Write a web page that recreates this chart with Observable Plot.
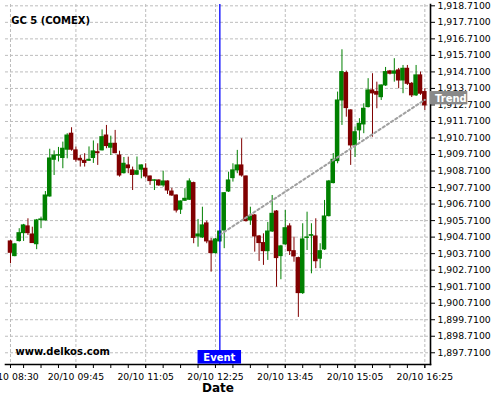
<!DOCTYPE html>
<html><head><meta charset="utf-8">
<script src="https://cdn.jsdelivr.net/npm/d3@7"></script>
<script src="https://cdn.jsdelivr.net/npm/@observablehq/plot@0.6"></script>
<style>html,body{margin:0;padding:0;background:#fff;}</style>
</head><body><div id="chart"></div>
<script>
const chartTitle = "GC 5 (COMEX)";
const watermark = "www.delkos.com";
const axisTitle = "Date";

const times = ["08:30","08:35","08:40","08:45","08:50","08:55",
"09:00","09:05","09:10","09:15","09:20","09:25","09:30","09:35","09:40","09:45","09:50","09:55",
"10:00","10:05","10:10","10:15","10:20","10:25","10:30","10:35","10:40","10:45","10:50","10:55",
"11:00","11:05","11:10","11:15","11:20","11:25","11:30","11:35","11:40","11:45","11:50","11:55",
"12:00","12:05","12:10","12:15","12:20","12:25","12:30","12:35","12:40","12:45","12:50","12:55",
"13:00","13:05","13:10","13:15","13:20","13:25","13:30","13:35","13:40","13:45","13:50","13:55",
"14:00","14:05","14:10","14:15","14:20","14:25","14:30","14:35","14:40","14:45","14:50","14:55",
"15:00","15:05","15:10","15:15","15:20","15:25","15:30","15:35","15:40","15:45","15:50","15:55",
"16:00","16:05","16:10","16:15","16:20","16:25"];

const open = [
1904.45,1903.56,1904.47,1904.95,1905.36,1904.87,1904.28,1905.74,1905.72,1907.17,
1909.39,1909.64,1909.50,1910.00,1910.97,1909.96,1909.45,1909.33,1909.33,1909.50,
1909.85,1909.96,1910.86,1910.12,1910.36,1909.65,1908.58,1909.05,1908.75,1908.49,
1908.79,1908.85,1908.38,1908.12,1908.14,1907.84,1908.08,1907.47,1907.23,1906.37,
1906.91,1906.97,1907.98,1904.75,1904.69,1905.54,1904.45,1903.74,1904.45,1905.11,
1907.47,1908.28,1908.75,1909.05,1908.38,1905.72,1906.02,1904.75,1904.35,1903.86,
1905.05,1906.26,1903.56,1904.27,1905.36,1903.86,1903.44,1901.32,1904.66,1904.79,
1904.75,1903.40,1903.96,1905.98,1907.98,1909.31,1912.98,1914.64,1912.38,1910.26,
1911.17,1911.53,1912.58,1913.59,1913.49,1913.18,1913.89,1914.74,1914.60,1914.80,
1914.19,1914.90,1913.99,1913.29,1914.50,1913.49];

const high = [
1904.51,1904.33,1905.22,1905.48,1905.82,1905.31,1905.78,1905.92,1907.47,1910.03,
1909.93,1910.14,1910.46,1910.97,1911.33,1910.16,1909.65,1909.76,1910.17,1910.53,
1910.36,1911.20,1911.47,1910.82,1911.17,1909.91,1909.53,1909.55,1908.95,1909.56,
1909.08,1909.15,1908.41,1908.17,1908.17,1908.70,1908.11,1907.66,1907.26,1906.90,
1907.64,1908.24,1908.04,1905.78,1906.52,1905.68,1904.63,1904.63,1905.11,1907.41,
1908.64,1909.15,1909.96,1910.66,1908.41,1906.52,1906.08,1904.81,1904.91,1905.60,
1907.23,1906.32,1904.21,1906.32,1905.52,1904.71,1903.50,1905.52,1906.22,1905.52,
1905.82,1904.31,1906.93,1908.14,1909.77,1913.49,1916.05,1914.76,1912.41,1911.37,
1911.88,1912.78,1914.30,1914.60,1914.09,1913.92,1914.98,1914.80,1915.51,1914.92,
1915.10,1915.10,1914.07,1915.10,1914.70,1913.69];

const low = [
1903.10,1903.52,1904.41,1904.45,1904.81,1904.33,1903.95,1905.22,1905.69,1907.13,
1908.44,1909.26,1908.85,1909.45,1909.91,1909.25,1908.95,1908.95,1909.29,1909.17,
1909.05,1909.93,1910.06,1909.65,1909.76,1908.34,1908.53,1908.55,1907.53,1908.44,
1908.24,1908.24,1907.84,1907.53,1907.78,1907.73,1907.29,1907.17,1906.17,1906.08,
1906.87,1906.93,1904.31,1904.10,1904.63,1904.31,1902.59,1903.69,1904.39,1904.01,
1907.41,1908.04,1908.55,1908.34,1905.62,1905.42,1903.80,1903.24,1903.00,1903.30,
1904.99,1901.68,1902.13,1904.21,1903.60,1903.19,1899.85,1901.24,1903.90,1902.49,
1902.80,1902.80,1903.90,1905.93,1907.93,1909.15,1911.47,1911.97,1909.05,1909.53,
1910.56,1910.97,1912.53,1910.76,1912.48,1912.98,1913.83,1914.53,1914.09,1913.69,
1913.39,1913.89,1913.16,1913.22,1913.29,1912.38];

const close = [
1903.76,1904.27,1904.95,1905.42,1904.95,1904.35,1905.72,1905.78,1907.23,1909.47,
1909.65,1909.67,1910.06,1910.86,1910.00,1909.39,1909.35,1909.20,1909.39,1909.90,
1909.79,1910.76,1910.22,1910.36,1909.79,1908.44,1909.15,1908.88,1908.47,1908.70,
1909.05,1908.38,1908.10,1908.15,1907.84,1908.08,1907.53,1907.23,1906.32,1906.87,
1907.03,1908.08,1904.66,1904.87,1905.42,1904.45,1903.74,1904.57,1905.05,1907.37,
1908.14,1908.75,1909.05,1908.44,1905.68,1905.96,1904.75,1904.35,1903.86,1905.05,
1906.12,1903.44,1904.15,1905.25,1903.86,1903.54,1901.32,1904.57,1904.69,1904.83,
1903.25,1903.86,1905.96,1908.08,1909.39,1912.98,1914.70,1912.52,1910.26,1911.06,
1911.57,1912.48,1913.59,1913.41,1913.33,1913.89,1914.70,1914.60,1914.74,1914.19,
1914.90,1913.99,1913.29,1914.50,1913.39,1912.68];

const yTicks = [1897.71,1898.71,1899.71,1900.71,1901.71,1902.71,1903.71,1904.71,1905.71,1906.71,1907.71,
1908.71,1909.71,1910.71,1911.71,1912.71,1913.71,1914.71,1915.71,1916.71,1917.71,1918.71];
const xTickTimes = ["08:30","09:45","11:05","12:25","13:45","15:05","16:25"];
const xTickLabels = ["20/10 08:30","20/10 09:45","20/10 11:05","20/10 12:25","20/10 13:45","20/10 15:05","20/10 16:25"];

const eventTime = "12:30";
const eventText = "Event";
const trendTimes = ["12:30","16:25"];
const trendValues = [1904.85, 1913.02];
const trendText = "Trend";

const UP = "#008000", DOWN = "#800000";
const toMin = s => { const [h, m] = s.split(":").map(Number); return h * 60 + m; };

const candles = times.map((t, i) => ({t: toMin(t), o: open[i], h: high[i], l: low[i], c: close[i], col: close[i] >= open[i] ? UP : DOWN}));
const trend = trendTimes.map((t, i) => ({t: toMin(t), v: trendValues[i]}));
const xMajor = xTickTimes.map(toMin);
const labelOf = new Map(xMajor.map((m, i) => [m, xTickLabels[i]]));
const xMinor = d3.range(toMin("08:45"), toMin("16:25") + 1, 20);

function eventLabel(index, scales, values, dimensions) {
  const g = d3.create("svg:g");
  const cx = scales.x(toMin(eventTime));
  const bottom = dimensions.height - dimensions.marginBottom;
  g.append("rect").attr("x", cx - 21.8).attr("y", bottom - 14).attr("width", 43.5).attr("height", 13.6).attr("fill", "#0000ff");
  g.append("text").attr("x", cx).attr("y", bottom - 3.4).attr("text-anchor", "middle")
    .attr("fill", "#fff").attr("font-weight", "bold").attr("font-size", 10).attr("font-family", "DejaVu Sans").text(eventText);
  return g.node();
}
function trendLabel(index, scales, values, dimensions) {
  const g = d3.create("svg:g");
  const x0 = dimensions.width - dimensions.marginRight;
  const y = scales.y(trendValues[trendValues.length - 1]);
  g.append("rect").attr("x", x0).attr("y", y - 8.3).attr("width", 37.3).attr("height", 13.3).attr("fill", "#898989");
  g.append("text").attr("x", x0 + 5).attr("y", y + 2.5).attr("text-anchor", "start").attr("fill", "#fff").attr("font-weight", "bold")
    .attr("font-size", 10).attr("font-family", "DejaVu Sans").text(trendText);
  return g.node();
}

const gridStyle = {stroke: "#bdbdbd", strokeOpacity: 1, strokeDasharray: "3,2", strokeWidth: 1};

const chart = Plot.plot({
  width: 500, height: 400,
  marginTop: 4, marginBottom: 36, marginLeft: 5, marginRight: 70,
  style: {fontFamily: "DejaVu Sans", fontSize: "9.3px", background: "#fff", color: "#000"},
  x: {type: "linear", domain: [toMin("08:30") - 5.73, toMin("16:25") + 6.5]},
  y: {domain: [1897.0, 1918.79]},
  color: {type: "identity"},
  marks: [
    Plot.gridY({ticks: yTicks, ...gridStyle}),
    Plot.gridX({ticks: xMajor, ...gridStyle}),
    Plot.ruleX(candles, {x: "t", y1: "l", y2: "h", stroke: "col", strokeWidth: 1}),
    Plot.rect(candles, {x1: d => d.t - 2.6, x2: d => d.t + 2.6, y1: "o", y2: "c", fill: "col", insetTop: -0.5, insetBottom: -0.5}),
    Plot.line(trend, {x: "t", y: "v", stroke: "#a0a0a0", strokeWidth: 2, strokeDasharray: "2.5,2.5"}),
    Plot.ruleX([toMin(eventTime)], {stroke: "#0000ff", strokeWidth: 1.3}),
    Plot.frame({anchor: "bottom", strokeWidth: 1.6}),
    Plot.frame({anchor: "right", strokeWidth: 1.6}),
    Plot.axisY({ticks: yTicks, anchor: "right", tickSize: 4, tickPadding: 3, tickFormat: d3.format(",.4f"), label: null}),
    Plot.axisX({ticks: xMinor, tickSize: 4, tickFormat: () => "", label: null}),
    Plot.axisX({ticks: xMajor, tickSize: 4, tickPadding: 5, tickFormat: d => labelOf.get(d), label: null}),
    Plot.text([chartTitle], {text: d => d, frameAnchor: "top-left", textAnchor: "start", dx: 5.7, dy: 12.8, fontWeight: "bold", fontSize: 10}),
    Plot.text([watermark], {text: d => d, frameAnchor: "bottom-left", textAnchor: "start", dx: 10, dy: -9.7, fontWeight: "bold", fontSize: 10}),
    Plot.text([axisTitle], {text: d => d, frameAnchor: "bottom", dy: 27.5, fontWeight: "bold", fontSize: 12}),
    eventLabel,
    trendLabel
  ]
});
document.getElementById("chart").appendChild(chart);
</script>
</body></html>
